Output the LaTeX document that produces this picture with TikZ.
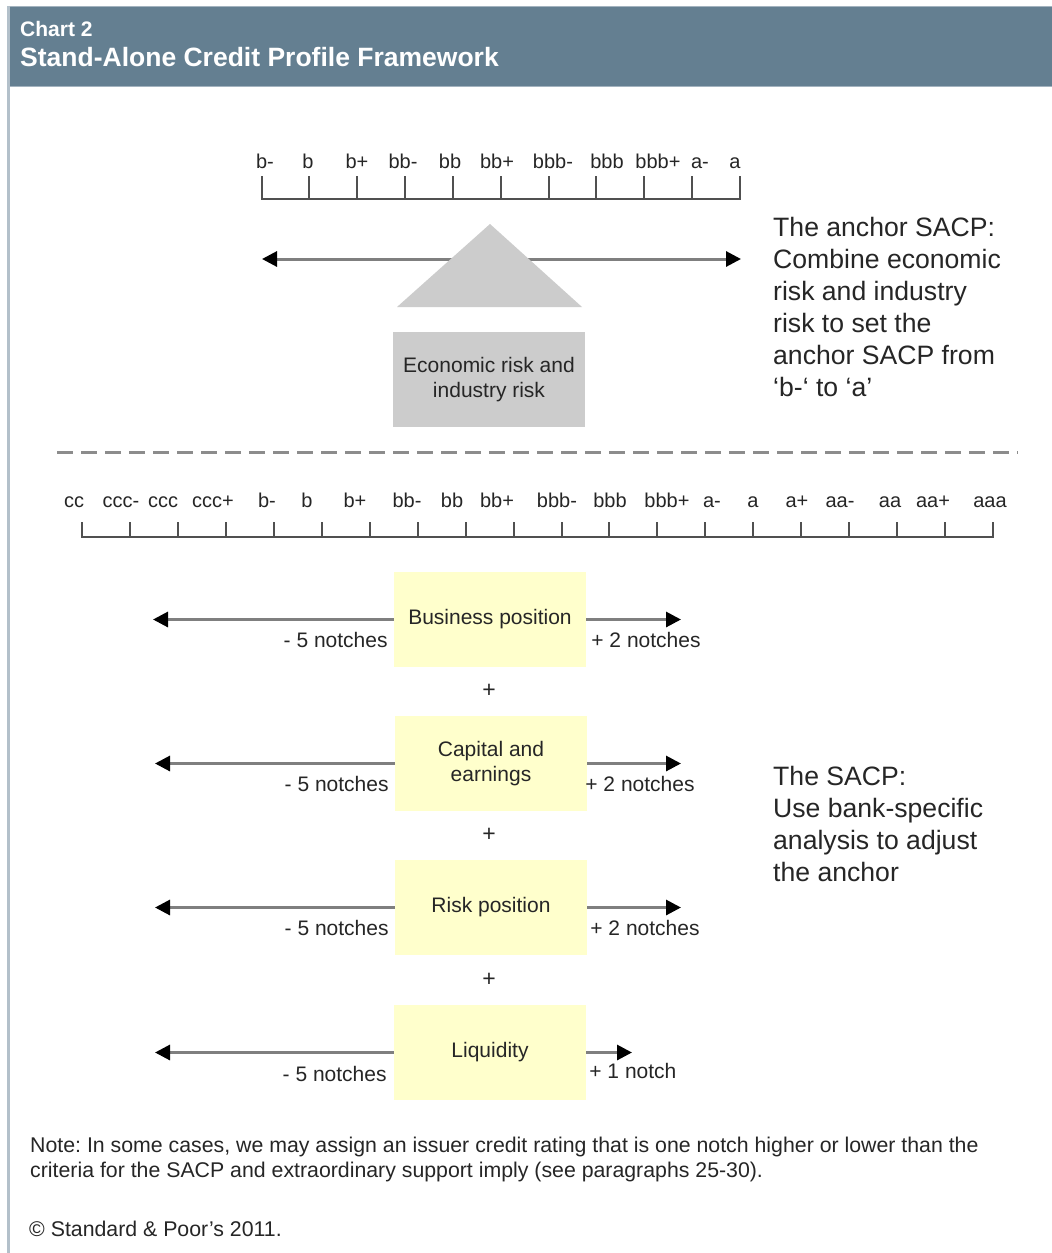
\documentclass[tikz,border=0pt]{standalone}
\usepackage{fontspec}
\setmainfont{Liberation Sans}
\usetikzlibrary{arrows.meta}
\frenchspacing

\definecolor{headbg}{HTML}{647F91}
\definecolor{headedge}{HTML}{A3B3BF}
\definecolor{sideline}{HTML}{B3C0CA}
\definecolor{riskgray}{HTML}{CCCCCC}
\definecolor{factorfill}{HTML}{FFFFCC}
\definecolor{shaft}{HTML}{7F7F7F}
\definecolor{scaleline}{HTML}{505050}
\definecolor{dashgray}{HTML}{8C8C8C}
\definecolor{txt}{HTML}{262626}

\tikzset{
  every node/.style={inner sep=0pt, text=txt},
  scalelabel/.style={font=\fontsize{20}{24}\selectfont, anchor=base},
  tickline/.style={draw=scaleline, line width=2pt, line cap=rect},
  bothways/.style={draw=shaft, line width=3pt,
    {Triangle[length=15pt,width=15pt,color=black]}-{Triangle[length=15pt,width=15pt,color=black]}},
  oneway/.style={draw=shaft, line width=3pt, -{Triangle[length=15pt,width=15pt,color=black]}},
  riskbox/.style={fill=riskgray, minimum width=192pt, minimum height=95pt,
    align=center, font=\fontsize{21}{25}\selectfont},
  factorbox/.style={fill=factorfill, minimum width=192pt, minimum height=95pt,
    align=center, font=\fontsize{21}{25}\selectfont},
  notchtext/.style={font=\fontsize{21}{25}\selectfont},
  plussign/.style={font=\fontsize{23}{25}\selectfont},
  sidetext/.style={font=\fontsize{26.6}{32}\selectfont, align=left, anchor=north west},
  smalltext/.style={font=\fontsize{21.3}{25}\selectfont, align=left},
}

\begin{document}
\begin{tikzpicture}[x=1pt,y=-1pt]
\useasboundingbox[fill=white] (0,0) rectangle (1052,1253);

% title band and left rule
\fill[headbg] (7,6) rectangle (1052,87);
\draw[headedge, line width=1.5pt] (7,6.5) -- (1052,6.5);
\draw[headedge, line width=1.5pt] (7,86.5) -- (1052,86.5);
\draw[sideline, line width=3pt] (8.5,6) -- (8.5,1253);
\node[anchor=base west, text=white, font=\fontsize{21}{25}\selectfont\bfseries] (charttag) at (20,36) {Chart 2};
\node[anchor=base west, text=white, font=\fontsize{26.5}{30}\selectfont\bfseries] (charttitle) at (20,66) {Stand-Alone Credit Profile Framework};

% anchor scale, 'b-' to 'a'
\foreach \lab/\lx [count=\k from 0] in {b-/265, b/308, b+/357, bb-/403, bb/450, bb+/497, bbb-/553, bbb/607, bbb+/658, a-/700, a/735}{
  \node[scalelabel] (top\k) at (\lx,168) {\lab};
  \draw[tickline] (261.5+47.85*\k,177) -- (261.5+47.85*\k,199);
}
\draw[tickline] (261.5,199) -- (740,199);

% balance beam on the fulcrum
\coordinate (beamL) at (262,259);
\coordinate (beamR) at (741,259);
\draw[bothways] (beamL) -- (beamR);
\coordinate (fulcrumTop) at (490,224);
\coordinate (fulcrumL) at (397,307);
\coordinate (fulcrumR) at (582,307);
\fill[riskgray] (fulcrumL) -- (fulcrumTop) -- (fulcrumR) -- cycle;
\node[riskbox] (econ) at (489,379.5) {Economic risk and\\industry risk};

\node[sidetext] (anchortext) at (773,217) {The anchor SACP:\\Combine economic\\risk and industry\\risk to set the\\anchor SACP from\\‘b-‘ to ‘a’};

% divider
\coordinate (divL) at (57,452);
\coordinate (divR) at (1018,452);
\draw[dashgray, line width=3pt, dash pattern=on 16pt off 8pt] (divL) -- (divR);

% full rating scale, 'cc' to 'aaa'
\foreach \lab/\lx [count=\k from 0] in {cc/74, ccc-/121, ccc/163, ccc+/213, b-/267, b/307, b+/355, bb-/407, bb/452, bb+/497, bbb-/557, bbb/610, bbb+/667, a-/712, a/753, a+/797, aa-/840, aa/890, aa+/933, aaa/990}{
  \node[scalelabel] (full\k) at (\lx,507) {\lab};
  \draw[tickline] (82+47.95*\k,523) -- (82+47.95*\k,537);
}
\draw[tickline] (82,537) -- (993,537);

% bank-specific factors
\node[factorbox] (bizpos) at (490,619.5) {Business position};
\node[factorbox] (capearn) at (491,763.5) {Capital and\\earnings};
\node[factorbox] (riskpos) at (491,907.5) {Risk position};
\node[factorbox] (liquid) at (490,1052.5) {Liquidity};

\coordinate (bizL) at (153,619.5);   \coordinate (bizR) at (681,619.5);
\coordinate (capL) at (155,763.5);   \coordinate (capR) at (681,763.5);
\coordinate (riskL) at (155,907.5);  \coordinate (riskR) at (681,907.5);
\coordinate (liqL) at (155,1052.5);  \coordinate (liqR) at (632,1052.5);

\draw[oneway] (bizpos.west) -- (bizL);   \draw[oneway] (bizpos.east) -- (bizR);
\draw[oneway] (capearn.west) -- (capL);  \draw[oneway] (capearn.east) -- (capR);
\draw[oneway] (riskpos.west) -- (riskL); \draw[oneway] (riskpos.east) -- (riskR);
\draw[oneway] (liquid.west) -- (liqL);   \draw[oneway] (liquid.east) -- (liqR);

% notch limits under each beam (yshift is upward, so negative moves down)
\node[notchtext, anchor=base east] (bizminus) at ([xshift=-6pt,yshift=-27.5pt]bizpos.west) {- 5 notches};
\node[notchtext, anchor=base west] (bizplus) at ([xshift=5pt,yshift=-27.5pt]bizpos.east) {+ 2 notches};
\node[notchtext, anchor=base east] (capminus) at ([xshift=-6pt,yshift=-27.5pt]capearn.west) {- 5 notches};
\node[notchtext, anchor=base west] (capplus) at ([xshift=-2pt,yshift=-27.5pt]capearn.east) {+ 2 notches};
\node[notchtext, anchor=base east] (riskminus) at ([xshift=-6pt,yshift=-27.5pt]riskpos.west) {- 5 notches};
\node[notchtext, anchor=base west] (riskplus) at ([xshift=3pt,yshift=-27.5pt]riskpos.east) {+ 2 notches};
\node[notchtext, anchor=base east] (liqminus) at ([xshift=-7pt,yshift=-28.5pt]liquid.west) {- 5 notches};
\node[notchtext, anchor=base west] (liqplus) at ([xshift=3pt,yshift=-26pt]liquid.east) {+ 1 notch};

\node[plussign] (plusA) at (489,691) {+};
\node[plussign] (plusB) at (489,835) {+};
\node[plussign] (plusC) at (489,980) {+};

\node[sidetext] (sacptext) at (773,766) {The SACP:\\Use bank-specific\\analysis to adjust\\the anchor};

% footnotes
\node[smalltext, anchor=north west] (note) at (30,1137) {Note: In some cases, we may assign an issuer credit rating that is one notch higher or lower than the\\criteria for the SACP and extraordinary support imply (see paragraphs 25-30).};
\node[smalltext, anchor=base west] (copyright) at (29,1236) {© Standard \& Poor’s 2011.};
\end{tikzpicture}
\end{document}
